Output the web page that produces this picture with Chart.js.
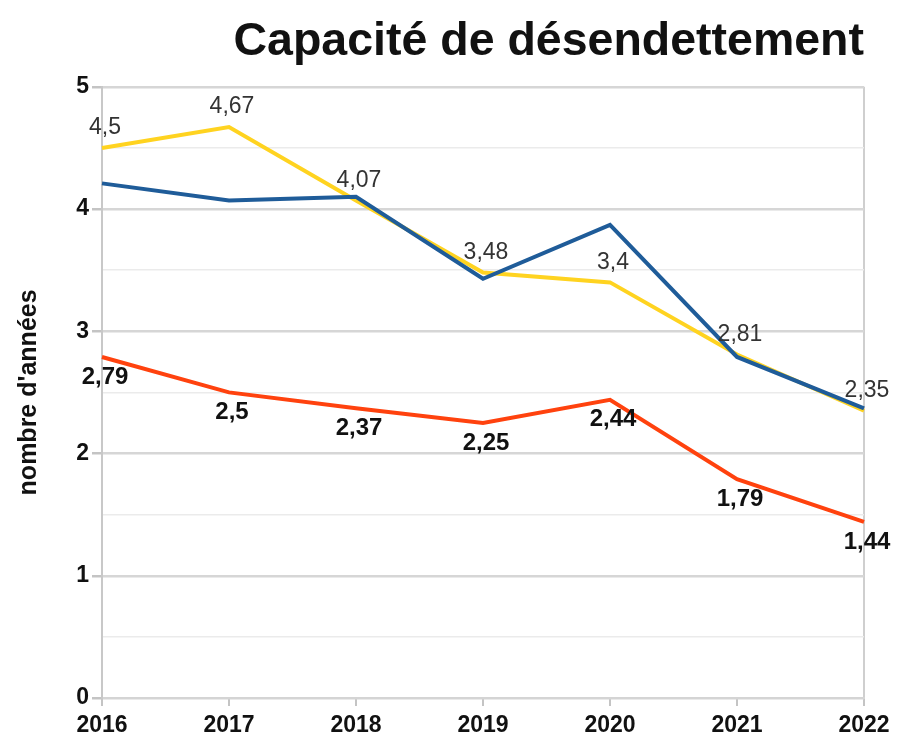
<!DOCTYPE html>
<html>
<head>
<meta charset="utf-8">
<style>
  html, body { margin: 0; padding: 0; background: #fff; }
  #wrap { width: 899px; height: 740px; }
</style>
<script src="https://cdn.jsdelivr.net/npm/chart.js@4/dist/chart.umd.min.js"></script>
</head>
<body>
<div id="wrap"><canvas id="chart" width="899" height="740"></canvas></div>
<script>
const years = ["2016", "2017", "2018", "2019", "2020", "2021", "2022"];
const blueValues = [4.21, 4.07, 4.1, 3.43, 3.87, 2.79, 2.37];
const yellowValues = [4.5, 4.67, 4.07, 3.48, 3.4, 2.81, 2.35];
const redValues = [2.79, 2.5, 2.37, 2.25, 2.44, 1.79, 1.44];

const FONT = "'Liberation Sans', Arial, sans-serif";

// étiquettes de valeurs (virgule décimale)
const valueLabels = {
    id: "valueLabels",
    afterDatasetsDraw(chart) {
        const ctx = chart.ctx;
        chart.data.datasets.forEach(function(ds, i) {
            if (!ds.labelPos) return;
            const meta = chart.getDatasetMeta(i);
            ctx.save();
            ctx.font = (ds.labelBold ? "bold 24px " : "23px ") + FONT;
            ctx.fillStyle = ds.labelColor;
            ctx.textAlign = "center";
            ctx.textBaseline = "middle";
            meta.data.forEach(function(pt, j) {
                const txt = String(ds.data[j]).replace(".", ",");
                const dy = ds.labelPos === "above" ? -20 : 20;
                ctx.fillText(txt, pt.x + 3, pt.y + dy);
            });
            ctx.restore();
        });
    }
};

new Chart(document.getElementById("chart"), {
    type: "line",
    data: {
        labels: years,
        datasets: [
            {
                data: blueValues,
                borderColor: "#1f5c99",
                borderWidth: 4,
                pointRadius: 0,
                tension: 0
            },
            {
                data: yellowValues,
                borderColor: "#ffd320",
                borderWidth: 4,
                pointRadius: 0,
                tension: 0,
                labelPos: "above",
                labelBold: false,
                labelColor: "#333333"
            },
            {
                data: redValues,
                borderColor: "#ff420e",
                borderWidth: 4,
                pointRadius: 0,
                tension: 0,
                labelPos: "below",
                labelBold: true,
                labelColor: "#111111"
            }
        ]
    },
    options: {
        responsive: false,
        animation: false,
        layout: { padding: { left: 14, right: 35, top: 0, bottom: 0 } },
        plugins: {
            legend: { display: false },
            tooltip: { enabled: false },
            title: {
                display: true,
                text: "Capacité de désendettement",
                align: "end",
                color: "#111111",
                font: { family: FONT, size: 46.5, weight: "bold" },
                padding: { top: 14, bottom: 17 }
            }
        },
        scales: {
            x: {
                afterFit: function(scale) { scale.height = 42; },
                grid: {
                    color: function(c) { return c.index === years.length - 1 ? "#cfcfcf" : "rgba(0,0,0,0)"; },
                    lineWidth: 2,
                    tickColor: "#c4c4c4",
                    tickLength: 8
                },
                border: { display: true, color: "#d4d4d4", width: 2 },
                ticks: {
                    color: "#111111",
                    font: { family: FONT, size: 23, weight: "bold" },
                    padding: 6,
                    maxRotation: 0,
                    autoSkip: false
                }
            },
            y: {
                min: 0,
                max: 5,
                afterFit: function(scale) { scale.width = 88; },
                title: {
                    display: true,
                    text: "nombre d'années",
                    color: "#111111",
                    font: { family: FONT, size: 25, weight: "bold" },
                    padding: 0
                },
                grid: {
                    color: function(c) { return c.tick.value % 1 === 0 ? "#d6d6d6" : "#ebebeb"; },
                    lineWidth: function(c) { return c.tick.value % 1 === 0 ? 2.5 : 1.5; },
                    tickColor: function(c) { return c.tick.value % 1 === 0 ? "#c4c4c4" : "rgba(0,0,0,0)"; },
                    tickLength: 10
                },
                border: { display: true, color: "#c8c8c8", width: 2 },
                ticks: {
                    stepSize: 0.5,
                    color: "#111111",
                    font: { family: FONT, size: 23, weight: "bold" },
                    padding: 3,
                    callback: function(v) { return v % 1 === 0 ? v : ""; }
                }
            }
        }
    },
    plugins: [valueLabels]
});
</script>
</body>
</html>
